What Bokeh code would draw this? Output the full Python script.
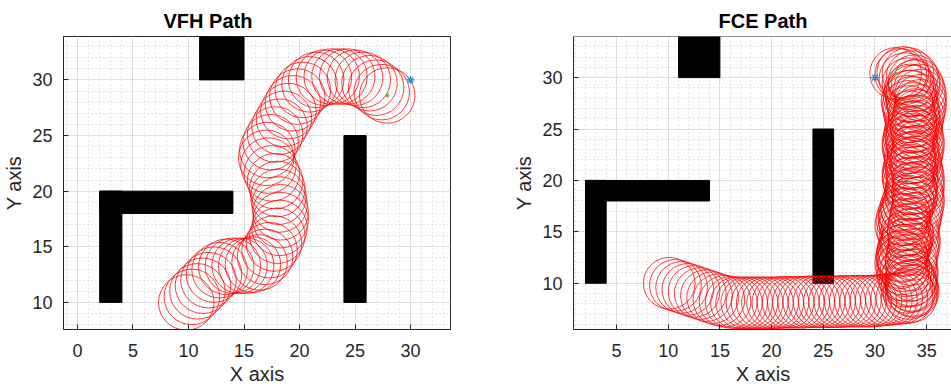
from bokeh.plotting import figure
from bokeh.layouts import row
from bokeh.models import SingleIntervalTicker, Range1d, Span
from bokeh.embed import file_html
from bokeh.resources import INLINE

# ---------------- data ----------------
# obstacles (same map in both panels)
obs_left = [11, 2, 2, 24]
obs_right = [15, 14, 4, 26]
obs_bottom = [30, 18, 10, 10]
obs_top = [36, 20, 20, 25]

goal_x = [30]
goal_y = [30]
robot_radius = 2.5

# VFH path: robot footprint centres
vfh_x = [9.8, 10.3, 10.8, 11.3, 11.8, 12.3, 12.8, 13.4, 14.0, 14.6, 15.2, 15.8,
         16.4, 16.9, 17.3, 17.7, 18.0, 18.2, 18.3, 18.3, 18.2, 18.1, 18.0, 17.8,
         17.5, 17.2, 17.0, 17.1, 17.4, 17.8, 18.2, 18.6, 19.0, 19.4, 19.8, 20.3,
         20.9, 21.5, 22.2, 22.9, 23.6, 24.3, 25.0, 25.7, 26.3, 26.9, 27.4, 27.9]
vfh_y = [10.0, 10.5, 11.0, 11.5, 12.0, 12.5, 12.9, 13.2, 13.3, 13.3, 13.3, 13.4,
         13.6, 14.1, 14.7, 15.3, 16.0, 16.7, 17.4, 18.1, 18.8, 19.5, 20.2, 20.9,
         21.6, 22.3, 23.0, 23.7, 24.4, 25.1, 25.8, 26.5, 27.2, 27.9, 28.5, 29.1,
         29.6, 30.0, 30.2, 30.3, 30.3, 30.3, 30.2, 30.0, 29.7, 29.3, 28.9, 28.6]

# FCE path: bottom run
fce_bottom_x = [10.1, 10.7, 11.3, 11.9, 12.5, 13.1, 13.7, 14.3, 14.9, 15.5, 16.1,
                16.6, 17.1, 17.6, 18.1, 18.6, 19.1, 19.6, 20.1, 20.6, 21.1, 21.6,
                22.1, 22.6, 23.1, 23.6, 24.1, 24.6, 25.1, 25.6, 26.1, 26.6, 27.1,
                27.6, 28.1, 28.6, 29.1, 29.6, 30.1]
fce_bottom_y = [10.0, 9.8, 9.6, 9.4, 9.2, 9.0, 8.8, 8.6, 8.4, 8.25, 8.15,
                8.1, 8.1, 8.1, 8.1, 8.1, 8.1, 8.1, 8.1, 8.1, 8.15, 8.15,
                8.15, 8.15, 8.15, 8.2, 8.2, 8.2, 8.2, 8.2, 8.2, 8.2, 8.25,
                8.25, 8.25, 8.25, 8.25, 8.25, 8.3]
# FCE path: first climb
fce_up1_x = [30.6, 31.1, 31.6, 32.1, 32.6, 33.1, 33.5,
             33.7, 33.6, 33.4, 33.2, 33.0, 32.8, 32.7, 32.6, 32.7, 32.9, 33.1, 33.2,
             33.1, 32.9, 32.8, 32.9, 33.1, 33.3, 33.5, 33.6, 33.5, 33.3, 33.2, 33.2,
             33.3, 33.4, 33.4, 33.3, 33.2, 33.2, 33.3, 33.4, 33.5, 33.5, 33.4, 33.3,
             33.2, 33.1, 33.3, 33.6, 33.8, 33.8, 33.6, 33.2, 32.7]
fce_up1_y = [8.35, 8.4, 8.45, 8.5, 8.55, 8.6, 8.7,
             9.2, 9.7, 10.2, 10.7, 11.2, 11.7, 12.2, 12.7, 13.2, 13.7, 14.2, 14.7,
             15.2, 15.7, 16.2, 16.7, 17.2, 17.7, 18.2, 18.7, 19.2, 19.7, 20.2, 20.7,
             21.2, 21.7, 22.2, 22.7, 23.2, 23.7, 24.2, 24.7, 25.2, 25.7, 26.2, 26.7,
             27.2, 27.7, 28.2, 28.7, 29.2, 29.7, 30.1, 30.4, 30.5]
# FCE path: descent along the right side
fce_down_x = [34.1, 34.3, 34.4, 34.4, 34.4, 34.3, 34.2, 34.1, 34.0, 34.0, 34.1,
              34.2, 34.2, 34.1, 34.0, 33.9, 34.0, 34.1, 34.2, 34.2, 34.2, 34.1,
              34.2, 34.2, 34.1, 34.0, 33.9, 33.8, 33.7, 33.7, 33.8, 33.8, 33.7,
              33.6, 33.5, 33.5, 33.6, 33.6, 33.5, 33.5, 33.6]
fce_down_y = [29.3, 28.8, 28.3, 27.8, 27.3, 26.8, 26.3, 25.8, 25.3, 24.8, 24.3,
              23.8, 23.3, 22.8, 22.3, 21.8, 21.3, 20.8, 20.3, 19.8, 19.3, 18.8,
              18.3, 17.8, 17.3, 16.8, 16.3, 15.8, 15.3, 14.8, 14.3, 13.8, 13.3,
              12.8, 12.3, 11.8, 11.3, 10.8, 10.3, 9.8, 9.3]
# FCE path: final climb to the goal
fce_up2_x = [33.3, 33.1, 32.9, 32.7, 32.6, 32.5, 32.6, 32.8, 33.0, 32.9, 32.7,
             32.5, 32.6, 32.8, 33.0, 33.2, 33.4, 33.5, 33.6, 33.6, 33.5, 33.6,
             33.7, 33.7, 33.6, 33.5, 33.6, 33.7, 33.8, 33.8, 33.7, 33.6, 33.5,
             33.4, 33.2, 32.9, 32.5, 32.0]
fce_up2_y = [9.0, 9.6, 10.2, 10.8, 11.4, 12.0, 12.6, 13.2, 13.8, 14.4, 15.0,
             15.6, 16.2, 16.8, 17.4, 18.0, 18.6, 19.2, 19.8, 20.4, 21.0, 21.6,
             22.2, 22.8, 23.4, 24.0, 24.6, 25.2, 25.8, 26.4, 27.0, 27.6, 28.2,
             28.8, 29.4, 29.9, 30.3, 30.4]

fce_x = fce_bottom_x + fce_up1_x + fce_down_x + fce_up2_x
fce_y = fce_bottom_y + fce_up1_y + fce_down_y + fce_up2_y

FONT = "Liberation Sans"
AX = "#262626"


def make_panel(title, xs, ys, xr, yr, fw, bl, br, title_align, title_offset, outline):
    p = figure(frame_width=fw, frame_height=293,
               x_range=Range1d(*xr), y_range=Range1d(*yr),
               min_border_left=bl, min_border_right=br,
               min_border_top=36, min_border_bottom=58,
               output_backend="svg", toolbar_location=None,
               background_fill_color="white", border_fill_color="white")
    p.title.text = title
    p.title.text_font = FONT
    p.title.text_font_size = "20px"
    p.title.text_font_style = "bold"
    p.title.text_color = "#000000"
    p.title.align = title_align
    p.title.offset = title_offset
    p.title.standoff = 9

    for ax in (p.xaxis[0], p.yaxis[0]):
        ax.ticker = SingleIntervalTicker(interval=5, num_minor_ticks=5)
        ax.major_label_text_font = FONT
        ax.major_label_text_font_size = "18px"
        ax.major_label_text_color = AX
        ax.axis_label_text_font = FONT
        ax.axis_label_text_font_size = "20px"
        ax.axis_label_text_font_style = "normal"
        ax.axis_label_text_color = AX
        ax.axis_line_color = AX
        ax.major_tick_line_color = AX
        ax.major_tick_in = 5
        ax.major_tick_out = 0
        ax.minor_tick_line_color = None
    p.xaxis.axis_label = "X axis"
    p.yaxis.axis_label = "Y axis"
    p.xaxis.major_label_standoff = 10
    p.yaxis.major_label_standoff = 7
    p.xaxis.axis_label_standoff = 3
    p.yaxis.axis_label_standoff = 4

    for g in (p.xgrid[0], p.ygrid[0]):
        g.grid_line_color = "#dedede"
        g.grid_line_width = 1
        g.minor_grid_line_color = "#c8c8c8"
        g.minor_grid_line_dash = "1 3"
        g.minor_grid_line_width = 1

    if outline:
        p.outline_line_color = AX
        p.outline_line_width = 1
    else:
        p.outline_line_color = None
        p.add_layout(Span(location=yr[1], dimension="width",
                          line_color=AX, line_width=1))

    p.quad(left=obs_left, right=obs_right, bottom=obs_bottom, top=obs_top,
           fill_color="black", line_color="black")
    p.circle(x=xs, y=ys, radius=robot_radius, fill_color=None,
             line_color="#ff0000", line_alpha=0.85, line_width=0.9)
    p.scatter(x=goal_x, y=goal_y, marker="asterisk", size=8,
              line_color="#2b8ad6", line_width=1.2)
    p.scatter(x=[xs[-1]], y=[ys[-1]], marker="circle", size=3,
              fill_color="#77AC30", line_color="#77AC30")
    return p


p1 = make_panel("VFH Path", vfh_x, vfh_y, (-1.26, 33.6), (7.57, 33.9),
                387, 62, 27, "left", 100, True)
p2 = make_panel("FCE Path", fce_x, fce_y, (0.84, 37.5), (5.5, 34.0),
                379, 96, 0, "center", 0, False)

layout = row(p1, p2, spacing=0)
open("out.html", "w").write(file_html(layout, INLINE))
